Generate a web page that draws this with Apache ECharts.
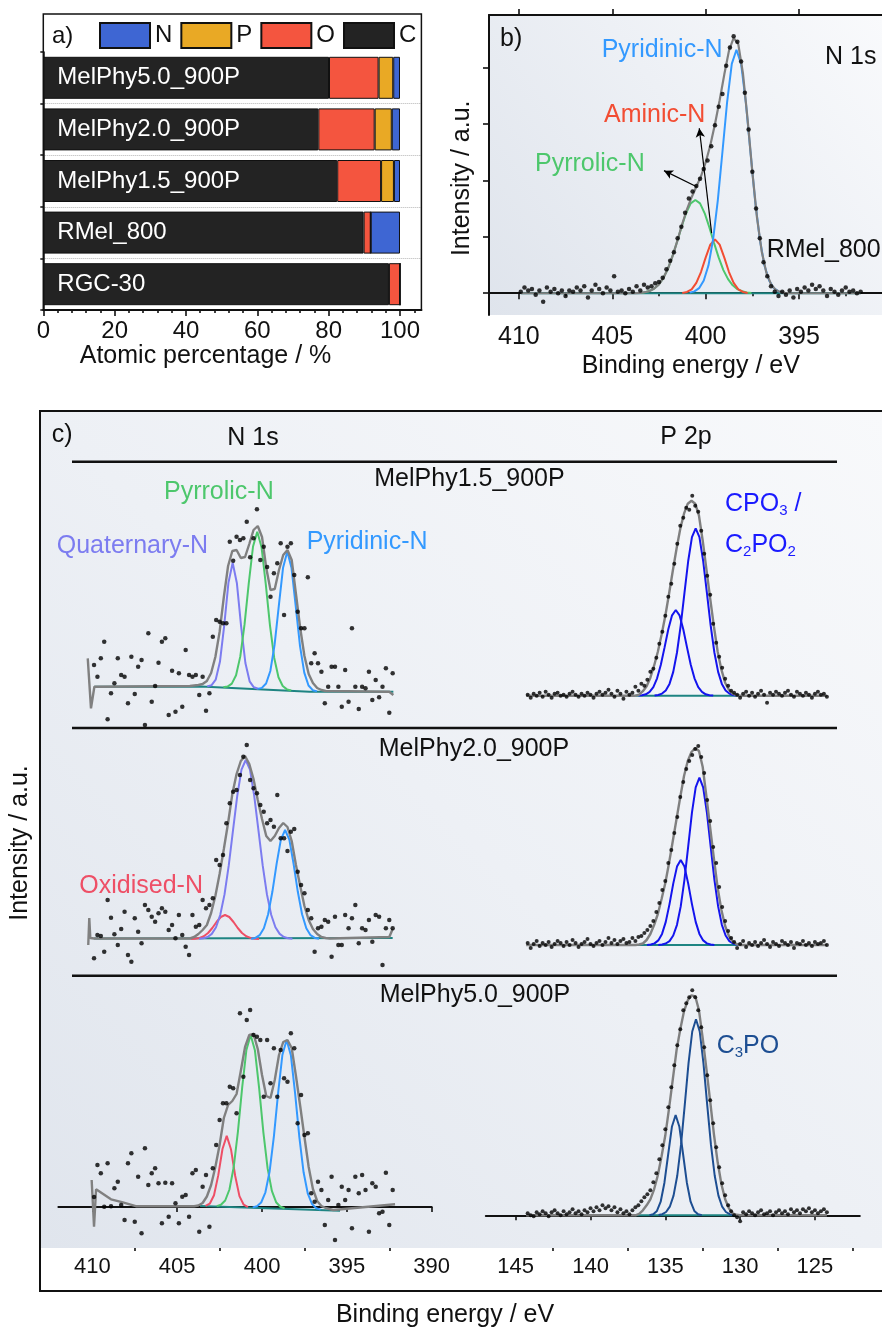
<!DOCTYPE html>
<html>
<head>
<meta charset="utf-8">
<script src="https://cdn.jsdelivr.net/npm/echarts@6.0.0/dist/echarts.min.js"></script>
<style>
html,body{margin:0;padding:0;background:#ffffff;}
#chart{width:882px;height:1327px;}
</style>
</head>
<body>
<div id="chart"></div>
<script>
// ================= DATA =================
// ---- Panel a: atomic composition / %
const aCategories = ['MelPhy5.0_900P','MelPhy2.0_900P','MelPhy1.5_900P','RMel_800','RGC-30'];
const aC = [80.1, 77.1, 82.4, 89.8, 96.9];
const aO = [13.9, 15.8, 12.3, 2.0, 3.1];
const aP = [4.1, 4.8, 3.6, 0, 0];
const aN = [1.9, 2.3, 1.7, 8.2, 0];
const aTicks = [0,20,40,60,80,100];
const aMinorTicks = [4,8,12,16,24,28,32,36,44,48,52,56,64,68,72,76,84,88,92,96,104];
const aLegend = ['N','P','O','C'];

// ---- Panel b: RMel_800 N 1s (a.u.)
const FIT_STEP = 0.25;
const bTicks = [395,400,405,410];
const bMinorTicks = [392.5,397.5,402.5,407.5];
const bYMajor = [0,2,4,6,8];
const bYMinor = [1,3,5,7,9];
const bPtsStart = 409.9, PT_STEP = 0.2;
const bPts = [0.05,0.2,0.1,0.15,-0.05,0.1,-0.3,0.2,0.05,0.15, 0.0,0.1,-0.1,0.1,0.05,0.2,0.1,0.25,-0.15,0.1,
  0.3,0.15,0.0,0.2,0.1,0.6,0.05,0.1,0.0,0.15, 0.05,0.25,0.1,0.3,0.2,0.25,0.35,0.4,0.55,0.85,
  1.15,1.45,1.95,2.35,2.85,3.35,3.6,3.8,4.05,4.4, 4.7,5.2,5.95,6.6,7.05,8.05,8.7,9.1,8.9,8.2,
  7.1,5.8,4.3,3.0,1.95,1.1,0.6,0.25,0.05,-0.1, 0.05,-0.05,0.1,-0.15,0.15,0.05,0.2,0.1,0.3,0.15,
  0.25,0.1,-0.1,0.15,0.05,-0.05,0.1,0.2,0.05,0.1, 0.0,0.05];
const bPyrrolicStart = 403.55;
const bPyrrolic = [0.01,0.03,0.07,0.145,0.28,0.50,0.82,1.26,1.78,2.33,2.83,3.18,3.30,3.18,2.83,2.33,1.78,1.26,0.82,0.50,0.28,0.145,0.07,0.03,0.01];
const bAminicStart = 401.25;
const bAminic = [0.012,0.046,0.14,0.37,0.75,1.26,1.72,1.91,1.72,1.26,0.75,0.37,0.14,0.046,0.012];
const bPyridinicStart = 400.85;
const bPyridinic = [0.021,0.066,0.18,0.45,0.98,1.91,3.28,5.01,6.77,8.12,8.62,8.12,6.77,5.01,3.28,1.91,0.98,0.45,0.18,0.066,0.021];
const bEnvStart = 404.0;
const bEnv = [0,0.005,0.015,0.037,0.081,0.166,0.316,0.554,0.90,1.36,1.89,2.46,2.97,3.40,3.77,4.14,4.63,5.24,5.99,6.83,7.75,8.59,9.04,8.81,7.77,6.13,4.30,2.68,1.49,0.73,0.32,0.12,0.04,0.013,0];
const bEnvLeft = [[409.9,0],[404.25,0]];
const bEnvRight = [[391.7,0]];
const bBaseline = [[409.9,0],[391.7,0]];
const bArrows = [[[400.48,3.77],[402.23,4.34]], [[399.68,2.13],[400.34,5.84]]];

// ---- Panel c axes
const nTicks = [390,395,400,405,410];
const nMinorTicks = [392.5,397.5,402.5,407.5];
const pTicks = [125,130,135,140,145];
const pMinorTicks = [122.5,127.5,132.5,137.5,142.5];

// ---- Panel c, MelPhy1.5_900P N 1s
const n1PtsStart = 409.9;
const n1Pts = [25,13.3,31.7,48.3,-29.3,-3.3,6.7,31.7,15,13.3, -13.3,33.3,-4,23.3,30,-35,56.7,-11.7,4,27.3,
  48.3,51.7,-25,19.3,-21.7,16.7,-16.7,40,15,13.3, 15,-5,13.3,-20.7,-3.3,53.3,70,68.3,66.7,66.7,
  148.3,129.3,153.3,150,151.7,168.3,132.7,151.7,180.7,130, 143.3,123,93.3,116.7,126.7,146.7,75,143.3,146.7,115,
  78.3,61.7,61.7,112.7,26.7,36.7,26.7,18.3,-13.3,3.3, 23.3,23.3,3.3,-16.7,20,-11.7,61.7,3.3,-19,3.3,
  1.7,18.3,-10,10,-7.3,3.3,21.7,-22.7,16.7];
const n1QuatStart = 403.23;
const n1Quat = [3.6,4.7,10.3,28.2,64.2,107.1,127.2,106.7,63.4,27.0,8.7,2.7,1.2];
const n1PyrrStart = 402.28;
const n1Pyrr = [2.7,3.4,6.4,14.8,33.6,65.6,106.9,143.5,158.3,143.1,106.1,64.4,32.0,12.8,4.0,0.6,-0.5];
const n1PyridStart = 400.26;
const n1Pyrid = [1.1,2.1,6.5,19.0,45.1,84.1,122.3,138.4,121.9,83.3,43.9,17.4,4.5,-0.2,-1.4];
const n1EnvStart = 404.0;
const n1Env = [4.5,5,6,9,17,33,58,93,124,139,140,132,133,146,160,164,153,122,100,101,120,135,140,130,96,62,34,16,7,2,0,-1];
const n1EnvLeft = [[410.27,31.7],[410.08,-18.3],[409.88,3.3],[404.25,4]];
const n1EnvRight = [[392.5,-1.7],[392.26,-5]];
const n1Baseline = [[409.88,3.3],[403.6,3.5],[397.2,-1.7],[392.26,-1.7]];

// ---- Panel c, MelPhy2.0_900P N 1s
const n2PtsStart = 409.9;
const n2Pts = [-18.3,5,4,-11.7,40,22.3,5.7,-5,11,28.3, -15,-21.7,21.7,8.3,-3.3,35,30,23.3,18.3,26.7,
  31.7,28.3,10,15,1.7,25,5,-6.7,-15,25, 13.3,15,40,31.7,35,41.7,80,75,85,116.7,
  136.7,148.3,150,165,183.3,195,160,151.7,146.7,135, 128.3,116.7,120,113.3,145,101.7,101.7,89,108.3,111,
  68.3,55,46.7,30,21.7,-11.7,11.7,13.3,20,18.3, -16.7,23.3,-5,-5,25,11.7,21.7,35,-3.3,11.7,
  10,20,-1.7,25,23.3,-25,11.7,20,11.7];
const n2OxStart = 404.18;
const n2Ox = [1.1,1.3,2.1,3.7,7.0,12.0,18.0,23.0,25.0,23.0,18.0,12.0,7.0,3.7,2.1,1.3,1.1];
const n2QuatStart = 403.71;
const n2Quat = [1.2,1.7,3.0,6.1,12.8,25.2,45.6,74.6,109.6,144.2,170.3,180,170.3,144.2,109.6,74.6,45.6,25.2,12.8,6.1,3.0,1.7,1.2];
const n2PyridStart = 400.64;
const n2Pyrid = [1.3,2.1,4.8,11.7,25.7,48.2,76.2,100.3,110,100.3,76.2,48.2,25.7,11.7,4.8,2.1,1.3];
const n2EnvStart = 404.0;
const n2Env = [3,6,10,15,27,44,66,91,117,146,166,179,184,176,161,140,121,104,99,104,112,117,113,99,75,54,34,20,11,6,3,2];
const n2EnvLeft = [[410.24,-5],[410.18,22],[410.12,2],[409.9,1.5],[404.25,1.5]];
const n2EnvRight = [[396.0,1.5],[392.5,3],[392.3,11]];
const n2Baseline = [[409.9,1.5],[392.3,2]];

// ---- Panel c, MelPhy5.0_900P N 1s
const n3PtsStart = 409.9;
const n3Pts = [10,42,33.7,0.3,43.7,0.7,18.7,25.3,2,-13, 43.7,53.7,-14.7,30.3,-26.3,58.7,22,33.7,38.7,23.7,
  -16.3,24.3,-9.7,23.7,3.7,-16.3,10.3,12,-9.7,33.7, 37,-24.7,20.3,32,-19.7,38.7,62,87,103.7,103.7,
  120.3,118.7,93.7,193.7,130.3,187,197,172,170.3,167, 110.3,167,123.7,158.7,110.3,157,128.7,125.3,173.7,158.7,
  83.7,112,72,73.7,13.7,5.3,25.3,17,-18,7, 30.3,-33,2,20.3,7,17,-21.3,30.3,13.7,32,
  17,-24.7,23.7,20.3,-6.3,-4.7,34.3,-18,17];
const n3OxStart = 403.33;
const n3Ox = [1.2,3.3,11.7,31.6,58.0,71.1,57.8,31.0,10.9,2.3,-0.2];
const n3PyrrStart = 402.67;
const n3Pyrr = [0.9,2.2,6.5,17.5,39.7,75.4,119.4,157.0,172.0,156.8,118.8,74.6,38.6,16.1,4.8,0.2,-1.3];
const n3PyridStart = 400.55;
const n3Pyrid = [-0.4,0.8,4.5,14.7,35.8,70.7,114.2,152.0,167.1,151.8,113.6,69.9,34.7,13.3,2.9,-1.2,-2.6];
const n3EnvStart = 404.0;
const n3Env = [0.8,1.5,4,10.5,22,40,62,89,102,106,113,136,160,172,173,158,132,111,109,127,152,165,167,159,131,101,70,40,18,6,1,-1];
const n3EnvLeft = [[410.04,27],[409.9,-19.7],[409.78,17.7],[408.9,7.7],[408.2,4.7],[407.39,0.7],[404.25,0.8]];
const n3EnvRight = [[395.8,-3],[392.16,2.7]];
const n3Baseline = [[403.65,1],[395.4,-3.7]];

// ---- Panel c, P 2p spectra
const pPtsStart = 144.2;
const p1Pts = [1,-2,2,0,3,-1,4,1,-2,2, 3,0,1,-1,2,4,1,-1,2,0, 3,1,-2,2,4,1,3,6,2,-1, 5,2,-3,4,1,3,9,5,12,10,
  16,24,27,38,52,64,80,99,112,132, 152,170,178,188,186,200,190,184,165,142, 120,101,72,53,39,28,17,10,5,3,
  1,-2,2,4,0,3,-1,2,5,1, -7,3,1,4,2,0,3,5,1,-1, 4,2,0,3,1,-2,2,4,1,2, -1];
const p1C1Start = 136.8;
const p1C1 = [0.1,0.5,1.4,3.8,8.6,17.4,30.9,48.3,66.4,80.4,85.7,80.4,66.4,48.3,30.9,17.4,8.6,3.8,1.4,0.5,0.1];
const p1C2Start = 135.72;
const p1C2 = [0.2,0.7,2.1,5.2,11.8,23.8,43.2,70.3,102.8,134.7,158.5,167.3,158.5,134.7,102.8,70.3,43.2,23.8,11.8,5.2,2.1,0.7,0.2];
const p1EnvStart = 137.0;
const p1Env = [0,1,4.5,9.5,18,30,44,61,80,102,125,147,167,182,192,195,192,180,155,126,97,69,44,26,13,6,2,0.5,0];

const p2Pts = [2,-3,1,4,-1,2,0,3,-2,1, 4,2,-1,3,0,5,2,-2,1,3, 6,1,-1,2,4,0,3,7,2,5, 1,4,6,2,3,7,4,8,9,12,
  15,19,24,33,42,55,64,82,95,112, 128,148,163,176,184,190,196,199,188,172, 145,124,98,82,58,38,24,14,7,3,
  -3,1,4,-2,2,0,3,-1,2,5, 1,-2,3,1,-1,4,2,0,3,-3, 2,1,4,0,2,-1,3,1,2,4, 0];
const p2C1Start = 136.22;
const p2C1 = [0.1,0.5,1.6,4.6,11.1,23.1,40.9,61.4,78.4,85,78.4,61.4,40.9,23.1,11.1,4.6,1.6,0.5,0.1];
const p2C2Start = 135.47;
const p2C2 = [0.1,0.5,1.5,3.9,9.5,20.2,38.6,65.4,98.7,132.3,157.7,167.3,157.7,132.3,98.7,65.4,38.6,20.2,9.5,3.9,1.5,0.5,0.1];
const p2EnvStart = 137.0;
const p2Env = [0,0.5,1.5,5,11,20,31,46,62,82,104,126,148,169,184,193,197,194,178,148,117,86,57,35,19,9,3.5,1,0];

const p3Pts = [2,0,-1,3,1,4,2,-1,3,5, 2,0,4,1,3,6,2,4,1,5, 3,7,4,8,5,10,7,9,5,8, 3,6,2,4,1,5,8,10,14,18,
  21,25,33,42,56,70,86,108,128,150, 170,186,205,212,218,225,218,205,188,168, 140,115,92,68,48,32,20,10,4,0,
  -2,-6,3,1,4,2,0,3,5,1, 2,4,0,3,5,2,4,1,6,3, 5,2,6,4,7,3,5,2,4,6, 3];
const p3C1Start = 136.06;
const p3C1 = [0.2,1.1,4.4,13.6,32.6,60.8,88.5,100.3,88.5,60.8,32.6,13.6,4.4,1.1,0.2];
const p3C2Start = 135.45;
const p3C2 = [0.3,1.1,3.3,8.6,19.7,39.8,70.6,110.4,151.9,183.8,196,183.8,151.9,110.4,70.6,39.8,19.7,8.6,3.3,1.1,0.3];
const p3EnvStart = 137.0;
const p3Env = [0,1.5,5,10,16,26,40,59,80,107,136,165,186,204,215,220,219,205,177,146,114,81,53,31,16,7,2,0.5,0];
const pEnvLeft = [[144.3,0],[137.25,0]];
const pEnvRight = [[124.2,0]];
const pBaseline = [[137,0],[130,0]];

// ================= HELPERS =================
const FONT = 'Liberation Sans';
const FONTCSS = '"Liberation Sans", Arial, Helvetica, sans-serif';
function seq(start, step, vals){ return vals.map((v,i)=>[+(start - i*step).toFixed(3), v]); }
const COL = {env:'#808080', base:'#1e8482', green:'#4dc76c', blue:'#3399ff', red:'#f24d33',
  purple:'#7c7cf0', ox:'#ee4f66', pblue:'#1414ee', navy:'#1d4e92', ink:'#111111'};
function ln(xi, yi, data, color, width, z){
  return {type:'line', xAxisIndex:xi, yAxisIndex:yi, data, symbol:'none', showSymbol:false,
    lineStyle:{color, width}, z: z||3, silent:true, animation:false};
}
function dots(xi, yi, data, size){
  return {type:'scatter', xAxisIndex:xi, yAxisIndex:yi, data, symbol:'circle', symbolSize:size||4.5,
    itemStyle:{color:'#000'}, z:6, silent:true, animation:false};
}
const inkLine = w => ({show:true, lineStyle:{color:COL.ink, width:w}});
function tickAxis(grid, min, max, inverse, ticks, len, withLine, labels, position, fs, margin){
  return {gridIndex:grid, type:'value', min, max, inverse, position: position||'bottom',
    axisLine: withLine ? inkLine(2) : {show:false},
    axisTick: {show:true, customValues:ticks, length:len, inside:false, lineStyle:{color:COL.ink, width:1.6}},
    axisLabel: labels ? {show:true, customValues:ticks, fontSize:fs||24, color:COL.ink, fontFamily:FONT, margin:margin||9} : {show:false},
    splitLine:{show:false}, minorTick:{show:false}};
}
const hiddenX = (g,min,max)=>({gridIndex:g, type:'value', min, max, inverse:true, show:false});
const hiddenY = (g,min,max)=>({gridIndex:g, type:'value', min, max, show:false});

// ================= AXES =================
const xAxis = [
  tickAxis(0, 0, 106, false, aTicks, 6, true, true, 'bottom', 24, 9),        // 0 a major
  tickAxis(0, 0, 106, false, aMinorTicks, 3, false, false),                   // 1 a minor
  tickAxis(1, 390, 411.6, true, bTicks, 6, true, true, 'bottom', 25, 10),     // 2 b bottom
  tickAxis(1, 390, 411.6, true, bMinorTicks, 3, false, false),               // 3 b minor
  tickAxis(1, 390, 411.6, true, bTicks, 6, true, false, 'top'),              // 4 b top
  hiddenX(2, 390, 412),                                                       // 5 r1 N
  hiddenX(3, 122, 147),                                                       // 6 r1 P
  hiddenX(4, 390, 412),                                                       // 7 r2 N
  hiddenX(5, 122, 147),                                                       // 8 r2 P
  tickAxis(6, 390, 412, true, nTicks, 5, true, true, 'bottom', 22, 8),       // 9 r3 N
  tickAxis(6, 390, 412, true, nMinorTicks, 3, false, false),                 // 10
  tickAxis(7, 122, 147, true, pTicks, 5, true, true, 'bottom', 22, 8),       // 11 r3 P
  tickAxis(7, 122, 147, true, pMinorTicks, 3, false, false)                  // 12
];
const yAxis = [
  {gridIndex:0, type:'category', data:aCategories, inverse:true,
   axisLine:inkLine(1.5), axisTick:{show:true, interval:0, length:3, lineStyle:{color:COL.ink, width:1.5}},
   axisLabel:{show:false},
   splitLine:{show:true, interval:(i)=> i>0, lineStyle:{color:'#b5b5b5', type:'dotted', width:1}}},
  {gridIndex:1, type:'value', min:-0.77, max:9.85, axisLine:inkLine(2),
   axisTick:{show:true, customValues:bYMajor, length:6, lineStyle:{color:COL.ink, width:1.6}},
   axisLabel:{show:false}, splitLine:{show:false}},
  {gridIndex:1, type:'value', min:-0.77, max:9.85, axisLine:{show:false},
   axisTick:{show:true, customValues:bYMinor, length:4, lineStyle:{color:COL.ink, width:1.6}},
   axisLabel:{show:false}, splitLine:{show:false}},
  hiddenY(2, -38, 228),      // 3 r1 N
  hiddenY(3, -32.3, 233.7),  // 4 r1 P
  hiddenY(4, -35.7, 212),    // 5 r2 N
  hiddenY(5, -30.7, 217),    // 6 r2 P
  hiddenY(6, -41, 231.3),    // 7 r3 N
  hiddenY(7, -32.7, 239.6)   // 8 r3 P
];
const G = (left,top,width,height)=>({left,top,width,height,containLabel:false,outerBoundsMode:'none'});
const grid = [
  G(43.3,52,378.1,258),
  G(489,15,403.4,300),
  G(58.4,462,373.3,266), G(485.8,462,374,266),
  G(58.4,728,373.3,247.7), G(485.8,728,374,247.7),
  G(58.4,975.7,373.3,272.3), G(485.8,975.7,374,272.3)
];

// ================= SERIES =================
const series = [];
const barColors = {C:'#232323', O:'#f4553f', P:'#e9a925', N:'#3e66d3'};
[['C',aC],['O',aO],['P',aP],['N',aN]].forEach(([name,data])=>{
  const s = {type:'bar', name, stack:'total', xAxisIndex:0, yAxisIndex:0, data, barWidth:42,
    itemStyle:{color:barColors[name], borderColor:'#111', borderWidth:1}, silent:true, animation:false};
  if (name==='C') s.label = {show:true, position:'insideLeft', distance:14, formatter:'{b}', color:'#ffffff', fontSize:24, fontFamily:FONT};
  series.push(s);
});

// panel b
series.push(ln(2,1,bBaseline,COL.base,2));
series.push(ln(2,1,seq(bPyrrolicStart,FIT_STEP,bPyrrolic),COL.green,2));
series.push(ln(2,1,seq(bAminicStart,FIT_STEP,bAminic),COL.red,2));
series.push(ln(2,1,seq(bPyridinicStart,FIT_STEP,bPyridinic),COL.blue,2));
const bEnvSeries = ln(2,1,bEnvLeft.concat(seq(bEnvStart,FIT_STEP,bEnv), bEnvRight),COL.env,2.2,4);
bEnvSeries.markLine = {silent:true, animation:false, symbol:['none','arrow'], symbolSize:[7,9],
  lineStyle:{color:'#000', width:1.2, type:'solid'}, label:{show:false},
  data: bArrows.map(a=>[{coord:a[0]},{coord:a[1]}])};
series.push(bEnvSeries);
series.push(dots(2,1,seq(bPtsStart,PT_STEP,bPts),4.5));

// row 1
series.push(ln(5,3,n1Baseline,COL.base,2));
series.push(ln(5,3,seq(n1QuatStart,FIT_STEP,n1Quat),COL.purple,2));
series.push(ln(5,3,seq(n1PyrrStart,FIT_STEP,n1Pyrr),COL.green,2));
series.push(ln(5,3,seq(n1PyridStart,FIT_STEP,n1Pyrid),COL.blue,2));
series.push(ln(5,3,n1EnvLeft.concat(seq(n1EnvStart,FIT_STEP,n1Env),n1EnvRight),COL.env,2.4,4));
series.push(dots(5,3,seq(n1PtsStart,PT_STEP,n1Pts),4.5));
series.push(ln(6,4,pBaseline,COL.base,2));
series.push(ln(6,4,seq(p1C1Start,FIT_STEP,p1C1),COL.pblue,2));
series.push(ln(6,4,seq(p1C2Start,FIT_STEP,p1C2),COL.pblue,2));
series.push(ln(6,4,pEnvLeft.concat(seq(p1EnvStart,FIT_STEP,p1Env),pEnvRight),COL.env,2.4,4));
series.push(dots(6,4,seq(pPtsStart,PT_STEP,p1Pts),4));

// row 2
series.push(ln(7,5,n2Baseline,COL.base,2));
series.push(ln(7,5,seq(n2OxStart,FIT_STEP,n2Ox),COL.ox,2));
series.push(ln(7,5,seq(n2QuatStart,FIT_STEP,n2Quat),COL.purple,2));
series.push(ln(7,5,seq(n2PyridStart,FIT_STEP,n2Pyrid),COL.blue,2));
series.push(ln(7,5,n2EnvLeft.concat(seq(n2EnvStart,FIT_STEP,n2Env),n2EnvRight),COL.env,2.4,4));
series.push(dots(7,5,seq(n2PtsStart,PT_STEP,n2Pts),4.5));
series.push(ln(8,6,pBaseline,COL.base,2));
series.push(ln(8,6,seq(p2C1Start,FIT_STEP,p2C1),COL.pblue,2));
series.push(ln(8,6,seq(p2C2Start,FIT_STEP,p2C2),COL.pblue,2));
series.push(ln(8,6,pEnvLeft.concat(seq(p2EnvStart,FIT_STEP,p2Env),pEnvRight),COL.env,2.4,4));
series.push(dots(8,6,seq(pPtsStart,PT_STEP,p2Pts),4));

// row 3
series.push(ln(9,7,n3Baseline,COL.base,2));
series.push(ln(9,7,seq(n3OxStart,FIT_STEP,n3Ox),COL.ox,2));
series.push(ln(9,7,seq(n3PyrrStart,FIT_STEP,n3Pyrr),COL.green,2));
series.push(ln(9,7,seq(n3PyridStart,FIT_STEP,n3Pyrid),COL.blue,2));
series.push(ln(9,7,n3EnvLeft.concat(seq(n3EnvStart,FIT_STEP,n3Env),n3EnvRight),COL.env,2.4,4));
series.push(dots(9,7,seq(n3PtsStart,PT_STEP,n3Pts),4.5));
series.push(ln(11,8,pBaseline,COL.base,2));
series.push(ln(11,8,seq(p3C1Start,FIT_STEP,p3C1),COL.navy,2));
series.push(ln(11,8,seq(p3C2Start,FIT_STEP,p3C2),COL.navy,2));
series.push(ln(11,8,pEnvLeft.concat(seq(p3EnvStart,FIT_STEP,p3Env),pEnvRight),COL.env,2.4,4));
series.push(dots(11,8,seq(pPtsStart,PT_STEP,p3Pts),4));

// ================= GRAPHICS (frames, texts) =================
const LG = echarts.graphic.LinearGradient;
function txt(text, x, y, color, size, extra){
  return Object.assign({type:'text', x, y, z:20, silent:true,
    style:{text, fill:color||COL.ink, font:(size||25)+'px '+FONTCSS,
      align:'left', verticalAlign:'middle', textAlign:'left', textVerticalAlign:'middle'}}, extra||{});
}
function ctxt(text, x, y, color, size, rot){
  const t = txt(text, x, y, color, size);
  t.style.align = 'center'; t.style.textAlign = 'center';
  if (rot) t.rotation = rot;
  return t;
}
function sub(text, x, y, color){
  return {type:'text', x, y, z:20, silent:true,
    style:{text, fill:color, align:'left', verticalAlign:'middle', textAlign:'left', textVerticalAlign:'middle',
      rich:{n:{fontSize:25, fontFamily:FONTCSS, fill:color, color:color, lineHeight:28},
            s:{fontSize:15, fontFamily:FONTCSS, fill:color, color:color, lineHeight:15, verticalAlign:'bottom'}}}};
}
const sepLine = y => ({type:'line', z:8, silent:true, shape:{x1:72, y1:y, x2:837, y2:y}, style:{stroke:COL.ink, lineWidth:2.5}});
const graphic = [
  {type:'rect', z:-10, silent:true, shape:{x:489,y:15,width:393,height:300},
   style:{fill:new LG(0,1,1,0,[{offset:0,color:'#dfe4ec'},{offset:0.55,color:'#edf0f5'},{offset:1,color:'#f9fafc'}])}},
  {type:'rect', z:-10, silent:true, shape:{x:41,y:412,width:841,height:836},
   style:{fill:new LG(0,1,1,0,[{offset:0,color:'#e0e5ed'},{offset:0.5,color:'#edf0f5'},{offset:1,color:'#f8f9fb'}])}},
  {type:'rect', z:8, silent:true, shape:{x:43.3,y:14,width:378.1,height:296}, style:{fill:'none', stroke:COL.ink, lineWidth:1.5}},
  {type:'polyline', z:8, silent:true, shape:{points:[[882,411],[40,411],[40,1291],[882,1291]]}, style:{fill:'none', stroke:COL.ink, lineWidth:2}},
  sepLine(461.7), sepLine(728), sepLine(975.7),
  // panel a
  txt('a)', 52, 36, COL.ink, 24),
  ctxt('Atomic percentage / %', 205.5, 356, COL.ink, 25),
  // panel b
  txt('b)', 500, 39, COL.ink, 25),
  txt('N 1s', 825, 57, COL.ink, 25),
  txt('Pyridinic-N', 601.7, 49.7, COL.blue, 25),
  txt('Aminic-N', 604, 115, COL.red, 25),
  txt('Pyrrolic-N', 535, 164, COL.green, 25),
  txt('RMel_800', 766.7, 250.5, COL.ink, 25),
  ctxt('Intensity / a.u.', 461.7, 178.3, COL.ink, 25, Math.PI/2),
  ctxt('Binding energy / eV', 690.8, 366.5, COL.ink, 25),
  // panel c
  txt('c)', 51.7, 435, COL.ink, 25),
  ctxt('N 1s', 253, 438.5, COL.ink, 25),
  ctxt('P 2p', 686, 437, COL.ink, 25),
  ctxt('MelPhy1.5_900P', 469.5, 479.5, COL.ink, 25),
  ctxt('MelPhy2.0_900P', 474, 749, COL.ink, 25),
  ctxt('MelPhy5.0_900P', 475, 995.5, COL.ink, 25),
  txt('Pyrrolic-N', 164, 492, COL.green, 25),
  txt('Quaternary-N', 56.7, 546, COL.purple, 25),
  txt('Pyridinic-N', 306.7, 542, COL.blue, 25),
  txt('Oxidised-N', 79.3, 886, COL.ox, 25),
  sub('{n|CPO}{s|3}{n| /}', 725, 504.5, '#1a1aff'),
  sub('{n|C}{s|2}{n|PO}{s|2}', 725, 545.5, '#1a1aff'),
  sub('{n|C}{s|3}{n|PO}', 716.7, 1046, COL.navy),
  ctxt('Intensity / a.u.', 20, 843, COL.ink, 25, Math.PI/2),
  ctxt('Binding energy / eV', 445, 1315, COL.ink, 25)
];

// ================= CHART =================
const chart = echarts.init(document.getElementById('chart'), null, {renderer:'canvas', width:882, height:1327});
chart.setOption({
  animation:false,
  backgroundColor:'#ffffff',
  textStyle:{fontFamily:FONT},
  legend:{data:aLegend, left:99, top:22, itemWidth:50, itemHeight:25, itemGap:8, icon:'rect',
    selectedMode:false, padding:0, textStyle:{fontSize:24, color:COL.ink, fontFamily:FONT}},
  grid, xAxis, yAxis, series, graphic
});
</script>
</body>
</html>
